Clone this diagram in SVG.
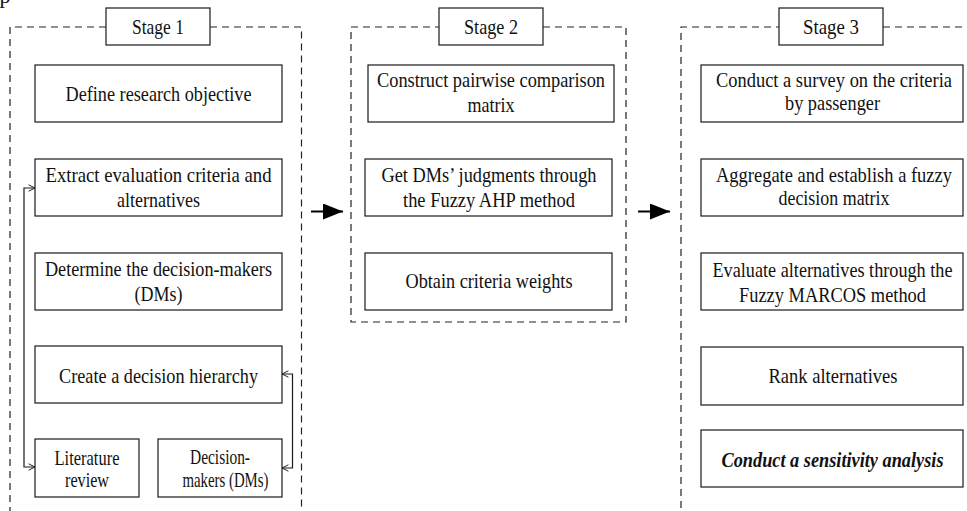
<svg xmlns="http://www.w3.org/2000/svg" width="967" height="511" viewBox="0 0 967 511">
<defs>
<style>
.frame{fill:none;stroke:#222;stroke-width:1.2;stroke-dasharray:7 5}
.box{fill:#fff;stroke:#1a1a1a;stroke-width:1.2}
.t{font-family:'Liberation Serif','Tinos','DejaVu Serif',serif;font-size:22px;fill:#111;text-anchor:middle}
.bi{font-weight:bold;font-style:italic}
.fb{fill:none;stroke:#1a1a1a;stroke-width:1.2}
.main{fill:none;stroke:#000;stroke-width:2}
</style>
<marker id="open" viewBox="0 0 10 10" refX="9" refY="5" markerWidth="8" markerHeight="8" markerUnits="userSpaceOnUse" orient="auto-start-reverse">
<path d="M1,1 L9,5 L1,9" fill="none" stroke="#1a1a1a" stroke-width="1.2"/>
</marker>
<marker id="solid" viewBox="0 0 20 16" refX="20" refY="8" markerWidth="20" markerHeight="16" markerUnits="userSpaceOnUse" orient="auto">
<path d="M0,0 L20,8 L0,16 Z" fill="#000"/>
</marker>
</defs>

<text class="t" x="5" y="3">p</text>

<g id="frames">
<path class="frame" d="M106,27 L10,27 L10,520 M210,27 L301.5,27 L301.5,520"/>
<rect class="frame" x="351" y="27" width="275" height="295"/>
<path class="frame" d="M681,520 L681,27 L779,27 M883,27 L975,27"/>
</g>

<g id="stage1-label"><rect class="box" x="106" y="8" width="104" height="37"/><text class="t" x="158" y="34" textLength="52" lengthAdjust="spacingAndGlyphs">Stage 1</text></g>
<g id="stage2-label"><rect class="box" x="439" y="8" width="104" height="37"/><text class="t" x="491" y="34" textLength="54" lengthAdjust="spacingAndGlyphs">Stage 2</text></g>
<g id="stage3-label"><rect class="box" x="779" y="8" width="104" height="37"/><text class="t" x="831" y="34" textLength="56" lengthAdjust="spacingAndGlyphs">Stage 3</text></g>

<g id="define"><rect class="box" x="35" y="65" width="247" height="57"/><text class="t" x="158.5" y="101" textLength="186" lengthAdjust="spacingAndGlyphs">Define research objective</text></g>
<g id="extract"><rect class="box" x="35" y="159" width="247" height="57"/><text class="t" x="158.5" y="182" textLength="226" lengthAdjust="spacingAndGlyphs">Extract  evaluation criteria and</text><text class="t" x="158.5" y="207" textLength="83" lengthAdjust="spacingAndGlyphs">alternatives</text></g>
<g id="determine"><rect class="box" x="35" y="253" width="247" height="57"/><text class="t" x="158.5" y="276" textLength="227" lengthAdjust="spacingAndGlyphs">Determine the decision-makers</text><text class="t" x="158.5" y="301" textLength="48" lengthAdjust="spacingAndGlyphs">(DMs)</text></g>
<g id="hierarchy"><rect class="box" x="35" y="346" width="247" height="57"/><text class="t" x="158.5" y="383" textLength="199" lengthAdjust="spacingAndGlyphs">Create a decision hierarchy</text></g>
<g id="literature"><rect class="box" x="35" y="439" width="104" height="58"/><text class="t" x="87" y="465" textLength="65" lengthAdjust="spacingAndGlyphs">Literature</text><text class="t" x="87" y="487" textLength="44" lengthAdjust="spacingAndGlyphs">review</text></g>
<g id="dms"><rect class="box" x="158" y="439" width="124" height="58"/><text class="t" x="220" y="464" textLength="60" lengthAdjust="spacingAndGlyphs">Decision-</text><text class="t" x="225.5" y="487" textLength="86" lengthAdjust="spacingAndGlyphs">makers (DMs)</text></g>

<g id="construct"><rect class="box" x="368" y="65" width="246" height="57"/><text class="t" x="491" y="87" textLength="228" lengthAdjust="spacingAndGlyphs">Construct pairwise comparison</text><text class="t" x="491" y="112" textLength="47" lengthAdjust="spacingAndGlyphs">matrix</text></g>
<g id="judgments"><rect class="box" x="365" y="159" width="247" height="57"/><text class="t" x="489" y="182" textLength="215" lengthAdjust="spacingAndGlyphs">Get DMs’ judgments through</text><text class="t" x="489" y="207" textLength="172" lengthAdjust="spacingAndGlyphs">the Fuzzy AHP method</text></g>
<g id="weights"><rect class="box" x="365" y="253" width="247" height="57"/><text class="t" x="489" y="288" textLength="167" lengthAdjust="spacingAndGlyphs">Obtain criteria weights</text></g>

<g id="survey"><rect class="box" x="701" y="65" width="262" height="57"/><text class="t" x="834" y="87" textLength="236" lengthAdjust="spacingAndGlyphs">Conduct a survey on the criteria</text><text class="t" x="832.5" y="110" textLength="95" lengthAdjust="spacingAndGlyphs">by passenger</text></g>
<g id="aggregate"><rect class="box" x="701" y="159" width="262" height="57"/><text class="t" x="834" y="182" textLength="236" lengthAdjust="spacingAndGlyphs">Aggregate and establish a fuzzy</text><text class="t" x="834" y="205" textLength="111" lengthAdjust="spacingAndGlyphs">decision matrix</text></g>
<g id="evaluate"><rect class="box" x="701" y="253" width="262" height="57"/><text class="t" x="832.5" y="277" textLength="240" lengthAdjust="spacingAndGlyphs">Evaluate alternatives through the</text><text class="t" x="832.5" y="302" textLength="187" lengthAdjust="spacingAndGlyphs">Fuzzy MARCOS method</text></g>
<g id="rank"><rect class="box" x="701" y="347" width="262" height="58"/><text class="t" x="833" y="383" textLength="129" lengthAdjust="spacingAndGlyphs">Rank alternatives</text></g>
<g id="sensitivity"><rect class="box" x="701" y="430" width="262" height="57"/><text class="t bi" x="832.5" y="467" textLength="222" lengthAdjust="spacingAndGlyphs">Conduct a sensitivity analysis</text></g>

<g id="connectors">
<path class="fb" d="M35,188 L24,188 L24,467 L35,467" marker-start="url(#open)" marker-end="url(#open)"/>
<path class="fb" d="M282,374 L292.5,374 L292.5,468 L282,468" marker-start="url(#open)" marker-end="url(#open)"/>
<path class="main" d="M311,211.5 L343,211.5" marker-end="url(#solid)"/>
<path class="main" d="M638,211.5 L670,211.5" marker-end="url(#solid)"/>
</g>
</svg>
